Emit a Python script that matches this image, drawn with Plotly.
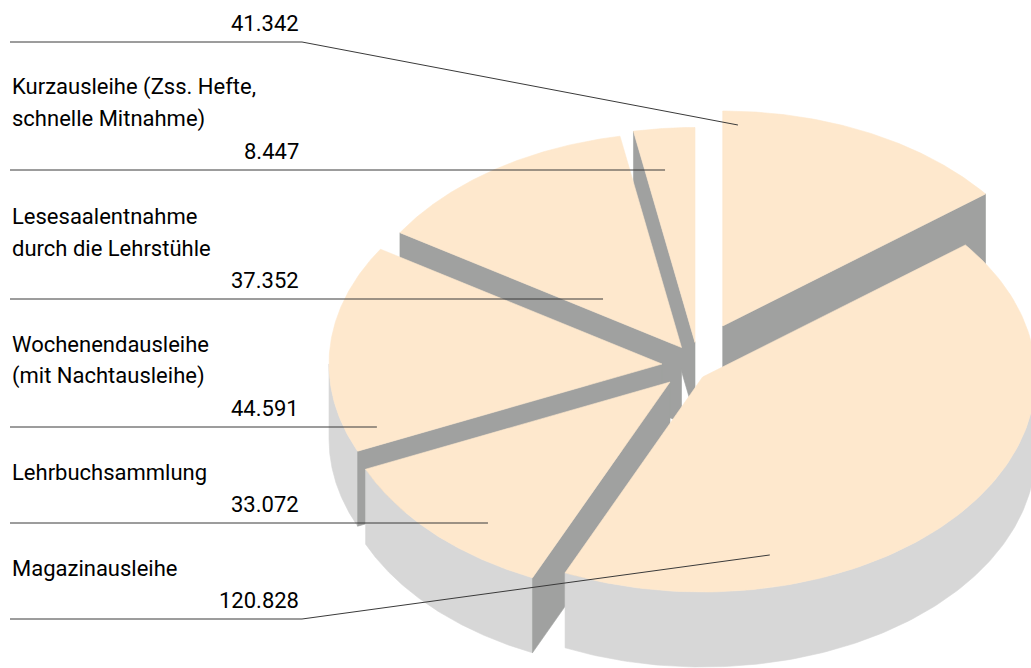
import numpy as np
import plotly.graph_objects as go

# ---------------- data ----------------
label_lines = [
    ["Fernleihe ausgegeben"],
    ["Kurzausleihe (Zss. Hefte,", "schnelle Mitnahme)"],
    ["Lesesaalentnahme", "durch die Lehrstühle"],
    ["Wochenendausleihe", "(mit Nachtausleihe)"],
    ["Lehrbuchsammlung"],
    ["Magazinausleihe"],
]
values = [41342, 8447, 37352, 44591, 33072, 120828]
value_text = ["41.342", "8.447", "37.352", "44.591", "33.072", "120.828"]

# ---------------- style / layout constants ----------------
W, H = 1031, 668
RX, RY, DEPTH = 333.0, 215.0, 75.0          # ellipse radii of the top face and wall height (px)
APEX = [(722.7, 326.0), (695.0, 342.5), (681.5, 347.5),
        (662.0, 364.0), (670.0, 382.0), (702.6, 377.0)]   # exploded slice centres
DRAW_ORDER = [1, 0, 2, 3, 4, 5]
TOP_COL, CUT_COL, RIM_COL = "#fee8cd", "#a0a1a0", "#d7d7d7"
LINE_COL = "#3a3a3a"
LINE_Y = [42, 170, 299, 427, 523, 619]
KNEE_X = [302, None, None, None, None, 302]
ANCHOR = [(2.8, 0.936), (353.6, 0.807), (313.7, 0.326),
          (251.1, 0.905), (219.8, 0.854), (166.3, 0.852)]
TEXT_X, NUM_X = 10, 301
FONT = dict(family="Roboto", size=22, color="#000000")
LINE_STEP = 32

total = float(sum(values))
spans = [360.0 * v / total for v in values]
# first slice ends its counter-clockwise sweep at 12 o'clock, following slices continue counter-clockwise
ranges = []
hi = spans[0]
for s in spans:
    lo = hi - s
    lo_n = lo % 360.0
    ranges.append((lo_n, lo_n + s))
    hi = lo


def pt(i, th, r=1.0, dz=0.0):
    ax, ay = APEX[i]
    t = np.radians(th)
    return ax + r * RX * np.sin(t), ay - r * RY * np.cos(t) + dz


def arc(i, a0, a1, dz=0.0, n=120):
    th = np.linspace(a0, a1, n)
    xs, ys = pt(i, th, 1.0, dz)
    return list(xs), list(ys)


def poly(xs, ys, col):
    return go.Scatter(x=xs + [xs[0]], y=ys + [ys[0]], mode="lines", fill="toself",
                      fillcolor=col, line=dict(color=col, width=0.6),
                      hoverinfo="skip", showlegend=False)


fig = go.Figure()

for i in DRAW_ORDER:
    lo, hi = ranges[i]
    ax, ay = APEX[i]
    # outer rim (front half only)
    r0, r1 = max(lo, 90.0), min(hi, 270.0)
    if r1 > r0:
        tx, ty = arc(i, r0, r1)
        bx, by = arc(i, r1, r0, DEPTH)
        fig.add_trace(poly(tx + bx, ty + by, RIM_COL))
    # radial cut faces facing the viewer
    for th, vis in ((lo, np.sin(np.radians(lo)) < -1e-6), (hi, np.sin(np.radians(hi)) > 1e-6)):
        if vis:
            cx_, cy_ = pt(i, th)
            fig.add_trace(poly([ax, float(cx_), float(cx_), ax],
                               [ay, float(cy_), float(cy_) + DEPTH, ay + DEPTH], CUT_COL))
    # top face
    tx, ty = arc(i, lo, hi)
    fig.add_trace(poly([ax] + tx, [ay] + ty, TOP_COL))

# leader lines
for i in range(len(values)):
    ex, ey = pt(i, ANCHOR[i][0], ANCHOR[i][1])
    ex, ey = float(ex), float(ey)
    if KNEE_X[i] is None:
        xs, ys = [TEXT_X, ex], [LINE_Y[i], LINE_Y[i]]
    else:
        xs, ys = [TEXT_X, KNEE_X[i], ex], [LINE_Y[i], LINE_Y[i], ey]
    fig.add_trace(go.Scatter(x=xs, y=ys, mode="lines", line=dict(color=LINE_COL, width=1),
                             hoverinfo="skip", showlegend=False))

# labels
annotations = []
for i in range(len(values)):
    num_base = LINE_Y[i] - 11.5
    annotations.append(dict(x=NUM_X, y=num_base - 7.5, xref="x", yref="y", text=value_text[i],
                            showarrow=False, xanchor="right", yanchor="middle", font=FONT))
    lines = label_lines[i]
    for k, t in enumerate(lines):
        base = num_base - LINE_STEP * (len(lines) - k)
        annotations.append(dict(x=TEXT_X, y=base - 7.5, xref="x", yref="y", text=t,
                                showarrow=False, xanchor="left", yanchor="middle", font=FONT))

fig.update_layout(
    width=W, height=H, margin=dict(l=0, r=0, t=0, b=0),
    paper_bgcolor="white", plot_bgcolor="white",
    xaxis=dict(range=[0, W], visible=False, fixedrange=True),
    yaxis=dict(range=[H, 0], visible=False, fixedrange=True),
    annotations=annotations, showlegend=False,
)

fig.write_html("out.html", config={"displayModeBar": False},
               post_script="document.body.style.margin='0px';document.body.style.overflow='hidden';")
